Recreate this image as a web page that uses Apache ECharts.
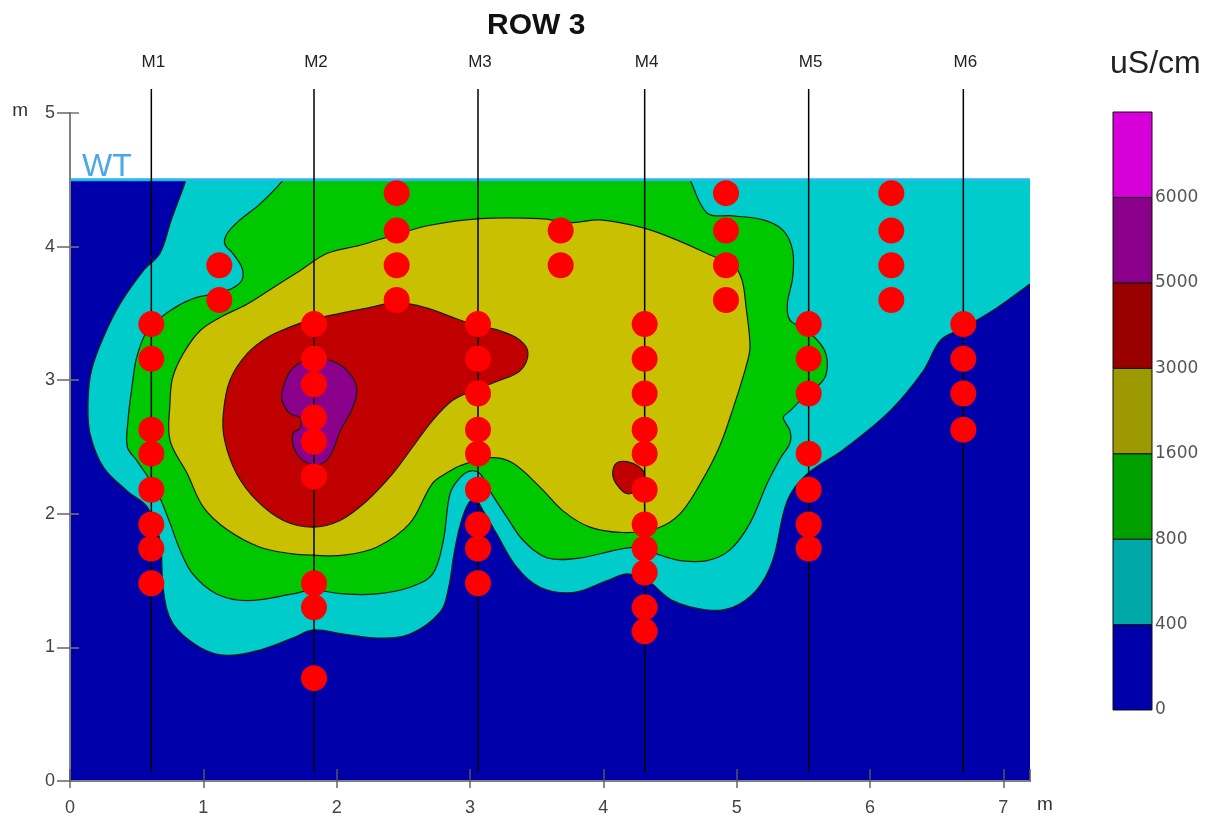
<!DOCTYPE html>
<html>
<head>
<meta charset="utf-8">
<script src="https://cdn.jsdelivr.net/npm/echarts@6/dist/echarts.min.js"></script>
<style>
html, body { margin: 0; padding: 0; background: #fff; }
#main { width: 1213px; height: 822px; }
</style>
</head>
<body>
<div id="main"></div>
<script>
const myChart = echarts.init(document.getElementById('main'));

// colour scale (uS/cm)
const levels = [0, 400, 800, 1600, 3000, 5000, 6000];
const bandColors = ['#0000aa', '#00a8a8', '#009f00', '#9c9a00', '#990000', '#8b008b', '#d800d8'];
const fillColors = ['#0000aa', '#00cccc', '#00c800', '#c8c000', '#c00000', '#8b008b'];

// wells
const wellNames = ['M1', 'M2', 'M3', 'M4', 'M5', 'M6'];
const wellX = [0.61, 1.83, 3.06, 4.31, 5.54, 6.70];
const wellTop = 5.18, wellBottom = 0.06;
const waterTable = 4.5;

// sample points: column x and depths
const sampleX = [0.61, 1.12, 1.83, 2.45, 3.06, 3.68, 4.31, 4.92, 5.54, 6.16, 6.70];
const sampleY = [
    [3.42, 3.16, 2.63, 2.45, 2.18, 1.92, 1.74, 1.48],
    [3.86, 3.60],
    [3.42, 3.16, 2.97, 2.72, 2.54, 2.28, 1.48, 1.30, 0.77],
    [4.40, 4.12, 3.86, 3.60],
    [3.42, 3.16, 2.90, 2.63, 2.45, 2.18, 1.92, 1.74, 1.48],
    [4.12, 3.86],
    [3.42, 3.16, 2.90, 2.63, 2.45, 2.18, 1.92, 1.74, 1.56, 1.30, 1.12],
    [4.40, 4.12, 3.86, 3.60],
    [3.42, 3.16, 2.90, 2.45, 2.18, 1.92, 1.74],
    [4.40, 4.12, 3.86, 3.60],
    [3.42, 3.16, 2.90, 2.63]
];

// contour outlines (x m, y m)
const blueArea = [[0, 0], [7.2, 0], [7.2, 4.5], [0, 4.5]];
const cyanEdge = [[0.94, 4.7], [0.86, 4.47], [0.76, 4.20], [0.675, 3.95], [0.55, 3.82], [0.375, 3.57], [0.25, 3.32],
    [0.16, 3.07], [0.135, 2.83], [0.15, 2.6], [0.25, 2.35], [0.43, 2.17], [0.58, 2.05], [0.675, 1.80], [0.70, 1.43],
    [0.77, 1.18], [0.975, 1.0], [1.18, 0.94], [1.425, 0.98], [1.67, 1.07], [1.82, 1.13], [2.05, 1.10], [2.30, 1.07],
    [2.55, 1.10], [2.78, 1.27], [2.84, 1.45], [2.88, 1.70], [2.93, 1.93], [2.99, 2.08], [3.04, 2.11], [3.10, 2.02],
    [3.20, 1.85], [3.35, 1.60], [3.525, 1.45], [3.77, 1.41], [4.03, 1.50], [4.18, 1.55], [4.33, 1.50], [4.52, 1.35],
    [4.78, 1.28], [4.97, 1.30], [5.15, 1.43], [5.27, 1.65], [5.38, 2.10], [5.53, 2.30], [5.80, 2.48], [6.15, 2.77],
    [6.40, 3.07], [6.53, 3.30], [6.70, 3.39], [6.95, 3.54], [7.2, 3.72], [7.45, 3.9], [7.5, 4.7]];
const greenEdge = [[1.70, 4.65], [1.60, 4.5], [1.425, 4.32], [1.275, 4.20], [1.18, 4.10], [1.16, 4.02], [1.22, 3.95],
    [1.29, 3.84], [1.29, 3.75], [1.22, 3.69], [1.10, 3.65], [0.92, 3.61], [0.75, 3.52], [0.58, 3.37], [0.50, 3.17],
    [0.465, 2.95], [0.435, 2.70], [0.43, 2.50], [0.50, 2.40], [0.65, 2.17], [0.75, 1.93], [0.825, 1.73], [0.92, 1.55],
    [1.10, 1.40], [1.33, 1.35], [1.67, 1.40], [1.82, 1.43], [2.05, 1.40], [2.30, 1.40], [2.55, 1.45], [2.72, 1.55],
    [2.80, 1.80], [2.85, 2.15], [2.925, 2.27], [3.0, 2.32], [3.075, 2.30], [3.15, 2.17], [3.28, 1.97], [3.40, 1.80],
    [3.58, 1.67], [3.83, 1.67], [4.10, 1.73], [4.275, 1.75], [4.40, 1.70], [4.575, 1.65], [4.78, 1.65], [4.95, 1.73],
    [5.10, 1.93], [5.23, 2.23], [5.33, 2.42], [5.40, 2.53], [5.40, 2.62], [5.35, 2.72], [5.40, 2.77], [5.50, 2.87],
    [5.65, 3.0], [5.68, 3.12], [5.65, 3.24], [5.53, 3.37], [5.40, 3.45], [5.38, 3.57], [5.42, 3.77], [5.42, 3.97],
    [5.35, 4.12], [5.20, 4.20], [4.97, 4.23], [4.78, 4.25], [4.65, 4.5], [4.58, 4.65]];
const oliveEdge = [[2.175, 4.01], [1.93, 3.95], [1.725, 3.82], [1.52, 3.69], [1.33, 3.57], [1.125, 3.47], [0.975, 3.37],
    [0.85, 3.20], [0.77, 3.02], [0.75, 2.83], [0.75, 2.55], [0.88, 2.30], [1.0, 2.05], [1.18, 1.88], [1.425, 1.75],
    [1.67, 1.70], [1.82, 1.69], [2.05, 1.69], [2.30, 1.75], [2.55, 1.93], [2.72, 2.23], [2.85, 2.32], [2.925, 2.36],
    [3.15, 2.42], [3.32, 2.38], [3.525, 2.20], [3.70, 2.02], [3.90, 1.90], [4.15, 1.86], [4.40, 1.89], [4.575, 2.0],
    [4.73, 2.23], [4.87, 2.50], [4.97, 2.78], [5.07, 3.10], [5.10, 3.25], [5.07, 3.55], [5.04, 3.75], [4.97, 3.87],
    [4.82, 3.93], [4.55, 4.05], [4.30, 4.14], [3.975, 4.20], [3.77, 4.18], [3.525, 4.21], [3.075, 4.21], [2.70, 4.16],
    [2.44, 4.09]];
const redEdge = [[2.45, 3.58], [2.68, 3.54], [2.87, 3.47], [3.05, 3.41], [3.225, 3.37], [3.375, 3.30], [3.435, 3.20],
    [3.375, 3.07], [3.225, 3.0], [3.02, 2.92], [2.87, 2.85], [2.72, 2.70], [2.57, 2.50], [2.42, 2.30], [2.23, 2.10],
    [2.025, 1.95], [1.82, 1.90], [1.60, 1.95], [1.40, 2.10], [1.25, 2.30], [1.16, 2.55], [1.15, 2.75], [1.20, 3.0],
    [1.33, 3.20], [1.48, 3.32], [1.63, 3.39], [1.80, 3.45], [2.025, 3.50], [2.23, 3.54]];
const purpleEdge = [[1.60, 2.95], [1.67, 3.09], [1.82, 3.16], [2.0, 3.13], [2.12, 3.02], [2.15, 2.90], [2.10, 2.75],
    [2.025, 2.62], [1.97, 2.47], [1.90, 2.38], [1.78, 2.38], [1.69, 2.47], [1.67, 2.60], [1.725, 2.64], [1.725, 2.72],
    [1.65, 2.75], [1.59, 2.85]];
const redSpot = [[4.10, 2.38], [4.18, 2.39], [4.27, 2.35], [4.31, 2.29], [4.275, 2.20], [4.18, 2.15], [4.10, 2.22], [4.07, 2.30]];

const regions = [
    { pts: blueArea, level: 0, smooth: 0 },
    { pts: cyanEdge, level: 1, smooth: 0.35 },
    { pts: greenEdge, level: 2, smooth: 0.35 },
    { pts: oliveEdge, level: 3, smooth: 0.35 },
    { pts: redEdge, level: 4, smooth: 0.35 },
    { pts: purpleEdge, level: 5, smooth: 0.35 },
    { pts: redSpot, level: 4, smooth: 0.35 }
];

let samples = [];
sampleX.forEach((x, i) => sampleY[i].forEach(y => samples.push([x, y])));

const axisGray = '#808080';
const font = 'Liberation Sans, Arial, sans-serif';
const labelStyle = { color: '#444', fontSize: 18, fontFamily: font };

let option = {
    animation: false,
    title: [{
        text: 'ROW 3',
        left: 482,
        top: 6,
        textStyle: { fontSize: 30, fontWeight: 'bold', color: '#111', fontFamily: font }
    }, {
        text: 'uS/cm',
        left: 1105,
        top: 43,
        textStyle: { fontSize: 32, fontWeight: 'normal', color: '#222', fontFamily: font }
    }],
    grid: [
        { left: 70, top: 113, width: 960, height: 668 },
        { left: 1113, top: 112, width: 39, height: 598 } // 色标
    ],
    xAxis: [{
        type: 'value', gridIndex: 0, min: 0, max: 7.2, interval: 1, position: 'bottom', z: 10,
        name: 'm', nameLocation: 'end', nameGap: 7,
        nameTextStyle: { color: '#333', fontSize: 19, verticalAlign: 'top', padding: [14, 0, 0, 0] },
        axisLine: { lineStyle: { color: axisGray, width: 2 } },
        axisTick: { length: 7, lineStyle: { color: '#666', width: 1.5 } },
        axisLabel: Object.assign({ margin: 18, showMaxLabel: false }, labelStyle),
        splitLine: { show: false }
    }, {
        type: 'value', gridIndex: 0, min: 0, max: 7.2, interval: 1, position: 'top', z: 10,
        axisLine: { lineStyle: { color: axisGray, width: 2 } },
        axisTick: { length: 12, lineStyle: { color: '#555', width: 1.5 } },
        axisLabel: { show: false },
        splitLine: { show: false }
    }, {
        type: 'value', gridIndex: 1, min: 0, max: 1, show: false
    }],
    yAxis: [{
        type: 'value', gridIndex: 0, min: 0, max: 5, interval: 1, position: 'left', z: 10,
        name: 'm', nameLocation: 'end', nameGap: 2,
        nameTextStyle: { color: '#333', fontSize: 19, align: 'right', verticalAlign: 'middle', padding: [0, 42, 0, 0] },
        axisLine: { lineStyle: { color: axisGray, width: 2 } },
        axisTick: { length: 13, lineStyle: { color: '#666', width: 1.5 } },
        axisLabel: Object.assign({ margin: 15 }, labelStyle),
        splitLine: { show: false }
    }, {
        type: 'value', gridIndex: 0, min: 0, max: 5, interval: 1, position: 'right', z: 10,
        axisLine: { lineStyle: { color: axisGray, width: 2 } },
        axisTick: { length: 9, lineStyle: { color: '#777', width: 1.5 } },
        axisLabel: { show: false },
        splitLine: { show: false }
    }, {
        type: 'value', gridIndex: 1, min: 0, max: 7, interval: 1, position: 'right',
        axisLine: { show: false }, axisTick: { show: false }, splitLine: { show: false },
        axisLabel: {
            margin: 3, color: '#555', fontSize: 17, fontFamily: 'DejaVu Sans, sans-serif',
            formatter: v => v < levels.length ? String(levels[v]) : ''
        }
    }],
    series: [{
        // 等值面
        type: 'custom', xAxisIndex: 0, yAxisIndex: 0, clip: true, z: 1,
        data: regions.map(r => r.pts[0]),
        renderItem: function (params, api) {
            const r = regions[params.dataIndex];
            return {
                type: 'polygon',
                shape: { points: r.pts.map(p => api.coord(p)), smooth: r.smooth },
                style: {
                    fill: fillColors[r.level],
                    stroke: r.level === 0 ? null : '#1a1a1a',
                    lineWidth: 1.2
                }
            };
        }
    }, {
        // 水位以上留白
        type: 'custom', xAxisIndex: 0, yAxisIndex: 0, clip: true, z: 2,
        data: [[0, 5]],
        renderItem: function (params, api) {
            const a = api.coord([0, 5]), b = api.coord([7.2, waterTable]);
            return { type: 'rect', shape: { x: a[0], y: a[1], width: b[0] - a[0], height: b[1] - a[1] }, style: { fill: '#fff' } };
        }
    }, {
        // WT
        type: 'custom', xAxisIndex: 0, yAxisIndex: 0, z: 3,
        data: [[0, waterTable]],
        renderItem: function (params, api) {
            const a = api.coord([0, waterTable]), b = api.coord([7.2, waterTable]);
            return {
                type: 'group',
                children: [{
                    type: 'line', shape: { x1: a[0], y1: a[1], x2: b[0], y2: b[1] },
                    style: { stroke: '#29b6ec', lineWidth: 3 }
                }, {
                    type: 'text', x: a[0] + 12, y: a[1] + 3,
                    style: { text: 'WT', fill: '#4aa8e6', fontSize: 32, fontFamily: font, verticalAlign: 'bottom' }
                }]
            };
        }
    }, {
        // 测井
        type: 'custom', xAxisIndex: 0, yAxisIndex: 0, z: 4,
        data: wellX.map(x => [x, wellTop]),
        renderItem: function (params, api) {
            const x = wellX[params.dataIndex];
            const a = api.coord([x, wellTop]), b = api.coord([x, wellBottom]);
            return {
                type: 'group',
                children: [{
                    type: 'line', shape: { x1: a[0], y1: a[1], x2: b[0], y2: b[1] },
                    style: { stroke: '#000', lineWidth: 1.5 }
                }, {
                    type: 'text', x: a[0] + 2, y: a[1] - 27,
                    style: { text: wellNames[params.dataIndex], fill: '#222', fontSize: 17, fontFamily: font, align: 'center', verticalAlign: 'middle' }
                }]
            };
        }
    }, {
        type: 'scatter', xAxisIndex: 0, yAxisIndex: 0, z: 5,
        symbolSize: 26,
        itemStyle: { color: '#ff0000', opacity: 1 },
        data: samples
    }, {
        // 色标
        type: 'custom', xAxisIndex: 2, yAxisIndex: 2,
        data: bandColors.map((c, i) => [0, i]),
        renderItem: function (params, api) {
            const i = params.dataIndex;
            const a = api.coord([0, i + 1]), b = api.coord([1, i]);
            return {
                type: 'rect',
                shape: { x: a[0], y: a[1], width: b[0] - a[0], height: b[1] - a[1] },
                style: { fill: bandColors[i], stroke: '#111', lineWidth: 1 }
            };
        }
    }]
};

myChart.setOption(option);
</script>
</body>
</html>
